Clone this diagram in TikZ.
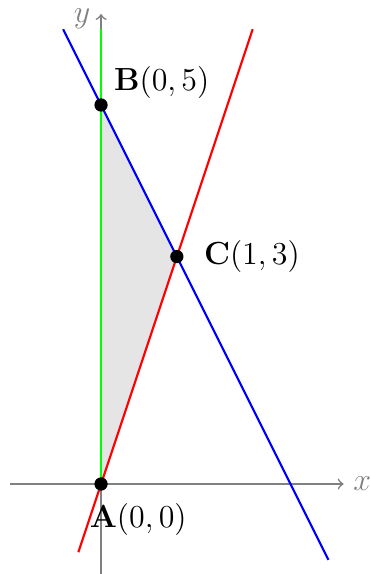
\documentclass[tikz,border=0pt]{standalone}
\begin{document}
\begin{tikzpicture}[
  axis/.style={gray, semithick, ->},
  graphline/.style={thick},
  pt/.style={circle, fill=black, inner sep=0pt, minimum size=1.75mm},
  lbl/.style={font=\large}
]
\useasboundingbox (-1.333,-1.187) rectangle (3.549,6.385);
\coordinate (A) at (0,0);
\coordinate (B) at (0,5);
\coordinate (C) at (1,3);
\fill[gray!20] (A) -- (B) -- (C) -- cycle;
\draw[axis] (-1.2,0) -- (3.2,0) node[right, lbl, gray] (xl) {$x$};
\draw[axis] (0,-1.2) -- (0,6.2);
\node[lbl, gray] (yl) at (-0.25,6.14) {$y$};
\draw[graphline, green] (0,0) -- (0,6);
\draw[graphline, red] (-0.3,-0.9) -- (2,6);
\draw[graphline, blue] (-0.5,6) -- (3,-1);
\node[pt] (pA) at (A) {};
\node[pt] (pB) at (B) {};
\node[pt] (pC) at (C) {};
\node[lbl] (lA) at (0.49,-0.47) {$\mathbf{A}(0,0)$};
\node[lbl] (lB) at (0.8,5.29) {$\mathbf{B}(0,5)$};
\node[lbl] (lC) at (1.99,3) {$\mathbf{C}(1,3)$};
\end{tikzpicture}
\end{document}
